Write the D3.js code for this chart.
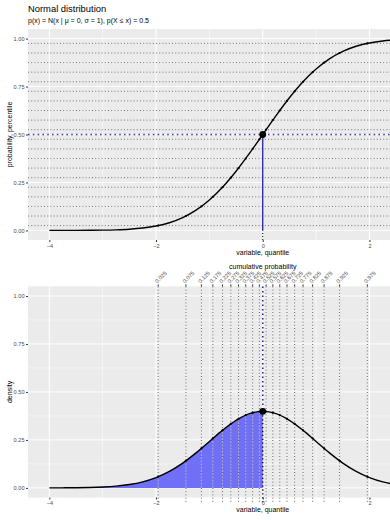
<!DOCTYPE html>
<html>
<head>
<meta charset="utf-8">
<script src="https://cdn.jsdelivr.net/npm/d3@7"></script>
<style>
  body { margin: 0; background: #fff; }
  svg { display: block; font-family: "Liberation Sans", Arial, sans-serif; }
</style>
</head>
<body>
<svg width="390" height="520"></svg>
<script>
// curve samples
const xs = [-4, -3.75, -3.5, -3.25, -3, -2.75, -2.5, -2.25, -2, -1.75, -1.5, -1.25, -1, -0.75, -0.5, -0.25,
  0, 0.25, 0.5, 0.75, 1, 1.25, 1.5, 1.75, 2, 2.25, 2.5, 2.75, 3, 3.25, 3.5, 3.75, 4];
const cdf = [0, 0.0001, 0.0002, 0.0006, 0.0013, 0.003, 0.0062, 0.0122, 0.0228, 0.0401, 0.0668, 0.1056, 0.1587,
  0.2266, 0.3085, 0.4013, 0.5, 0.5987, 0.6915, 0.7734, 0.8413, 0.8944, 0.9332, 0.9599, 0.9772, 0.9878,
  0.9938, 0.997, 0.9987, 0.9994, 0.9998, 0.9999, 1];
const pdf = [0.0001, 0.0004, 0.0009, 0.002, 0.0044, 0.0091, 0.0175, 0.0317, 0.054, 0.0863, 0.1295, 0.1826,
  0.242, 0.3011, 0.3521, 0.3867, 0.3989, 0.3867, 0.3521, 0.3011, 0.242, 0.1826, 0.1295, 0.0863, 0.054,
  0.0317, 0.0175, 0.0091, 0.0044, 0.002, 0.0009, 0.0004, 0.0001];

// quantile marks
const probs = ['0.025', '0.075', '0.125', '0.175', '0.225', '0.275', '0.325', '0.375', '0.425', '0.475',
  '0.525', '0.575', '0.625', '0.675', '0.725', '0.775', '0.825', '0.875', '0.925', '0.975'];
const quants = [-1.96, -1.44, -1.15, -0.935, -0.755, -0.598, -0.454, -0.319, -0.189, -0.063,
  0.063, 0.189, 0.319, 0.454, 0.598, 0.755, 0.935, 1.15, 1.44, 1.96];
const qdens = [0.0584, 0.1415, 0.2059, 0.2579, 0.3, 0.3335, 0.3602, 0.3791, 0.3919, 0.3981,
  0.3981, 0.3919, 0.3791, 0.3602, 0.3335, 0.3, 0.2579, 0.2059, 0.1415, 0.0584];

const xTicks = [-4, -2, 0, 2];   // 4 lies past the right edge of the picture
const xGrid = [-4, -2, 0, 2, 4];
const xMinor = [-3, -1, 1, 3];
const yTicks = [0, 0.25, 0.5, 0.75, 1];
const yMinor = [0.125, 0.375, 0.625, 0.875];
const q0 = 0, p0 = 0.5, d0 = 0.3989;

const svg = d3.select('svg');
const left = 28;
const x = d3.scaleLinear().domain([-4.4, 4.4]).range([left, 497.5]);
const yTop = d3.scaleLinear().domain([-0.05, 1.05]).range([240, 29]);
const yBot = d3.scaleLinear().domain([-0.05, 1.05]).range([497.5, 286.4]);
const W = 390;
const fmt = d3.format('.2f');
const grey30 = '#4d4d4d';

svg.append('text').attr('x', left).attr('y', 12).attr('font-size', 9.4).text('Normal distribution');
svg.append('text').attr('x', left).attr('y', 23).attr('font-size', 7)
  .text('p(x) = N(x | \u03bc = 0, \u03c3 = 1), p(X \u2264 x) = 0.5');

function panel(y, yTitle) {
  const g = svg.append('g');
  const [b, t] = y.range();
  g.append('rect').attr('x', left).attr('y', t).attr('width', W - left).attr('height', b - t).attr('fill', '#ebebeb');
  g.selectAll('.ymin').data(yMinor).enter().append('line')
    .attr('x1', left).attr('x2', W).attr('y1', y).attr('y2', y).attr('stroke', '#fff').attr('stroke-width', 0.5);
  g.selectAll('.xmin').data(xMinor).enter().append('line')
    .attr('y1', t).attr('y2', b).attr('x1', x).attr('x2', x).attr('stroke', '#fff').attr('stroke-width', 0.5);
  g.selectAll('.ymaj').data(yTicks).enter().append('line')
    .attr('x1', left).attr('x2', W).attr('y1', y).attr('y2', y).attr('stroke', '#fff').attr('stroke-width', 1);
  g.selectAll('.xmaj').data(xGrid).enter().append('line')
    .attr('y1', t).attr('y2', b).attr('x1', x).attr('x2', x).attr('stroke', '#fff').attr('stroke-width', 1);

  const ya = svg.append('g').attr('transform', `translate(${left},0)`)
    .call(d3.axisLeft(y).tickValues(yTicks).tickFormat(fmt).tickSize(2).tickPadding(1.5));
  ya.select('.domain').remove();
  ya.selectAll('line').attr('stroke', '#333');
  ya.selectAll('text').attr('fill', grey30).attr('font-size', 5.6).attr('font-family', 'Liberation Sans, Arial, sans-serif');

  const xa = svg.append('g').attr('transform', `translate(0,${b})`)
    .call(d3.axisBottom(x).tickValues(xTicks).tickFormat(d3.format('d')).tickSize(2).tickPadding(2));
  xa.select('.domain').remove();
  xa.selectAll('line').attr('stroke', '#333');
  xa.selectAll('text').attr('fill', grey30).attr('font-size', 5.6).attr('font-family', 'Liberation Sans, Arial, sans-serif');

  svg.append('text').attr('x', x(0)).attr('y', b + 14.5).attr('text-anchor', 'middle').attr('font-size', 7)
    .text('variable, quantile');
  svg.append('text').attr('transform', `translate(11.5,${(b + t) / 2}) rotate(-90)`).attr('text-anchor', 'middle')
    .attr('font-size', 7).text(yTitle);
  return g;
}

// ---- top panel: cumulative ----
const gt = panel(yTop, 'probability, percentile');
gt.selectAll('.ph').data(probs).enter().append('line')
  .attr('x1', left).attr('x2', W).attr('y1', d => yTop(+d)).attr('y2', d => yTop(+d))
  .attr('stroke', '#666').attr('stroke-width', 0.9).attr('stroke-dasharray', '1,2.2');
gt.append('line').attr('x1', left).attr('x2', W).attr('y1', yTop(p0)).attr('y2', yTop(p0))
  .attr('stroke', '#3a3ab0').attr('stroke-width', 1.6).attr('stroke-dasharray', '1.6,3.2');
gt.append('line').attr('x1', x(q0)).attr('x2', x(q0)).attr('y1', yTop.range()[0]).attr('y2', yTop(0))
  .attr('stroke', '#000').attr('stroke-width', 1).attr('stroke-dasharray', '1,2');
gt.append('line').attr('x1', x(q0)).attr('x2', x(q0)).attr('y1', yTop(0)).attr('y2', yTop(p0))
  .attr('stroke', '#2020a0').attr('stroke-width', 1.3);

const lineTop = d3.line().x((d, i) => x(xs[i])).y(d => yTop(d)).curve(d3.curveMonotoneX);
gt.append('path').datum(cdf).attr('d', lineTop).attr('fill', 'none').attr('stroke', '#000').attr('stroke-width', 1.4);
gt.selectAll('.qp').data(probs).enter().append('circle')
  .attr('cx', (d, i) => x(quants[i])).attr('cy', d => yTop(+d)).attr('r', 1.1).attr('fill', '#000');
gt.append('circle').attr('cx', x(q0)).attr('cy', yTop(p0)).attr('r', 3.4).attr('fill', '#000');

// ---- bottom panel: density ----
const gb = panel(yBot, 'density');
const shadeIdx = xs.map((v, i) => i).filter(i => xs[i] <= q0);
const area = d3.area().x(i => x(xs[i])).y0(yBot(0)).y1(i => yBot(pdf[i])).curve(d3.curveMonotoneX);
gb.append('path').datum(shadeIdx).attr('d', area).attr('fill', '#6f6ff8');

const bBottom = yBot.range()[0], bTop = yBot.range()[1];
gb.selectAll('.qvw').data(quants).enter().append('line')
  .attr('x1', x).attr('x2', x).attr('y1', bTop).attr('y2', bBottom)
  .attr('stroke', '#fff').attr('stroke-opacity', 0.45).attr('stroke-width', 0.9);
gb.selectAll('.qv').data(quants).enter().append('line')
  .attr('x1', x).attr('x2', x).attr('y1', bTop).attr('y2', bBottom + 5)
  .attr('stroke', '#555').attr('stroke-width', 0.9).attr('stroke-dasharray', '1,2.2');
gb.append('line').attr('x1', x(q0)).attr('x2', x(q0)).attr('y1', bTop).attr('y2', yBot(d0))
  .attr('stroke', '#22228c').attr('stroke-width', 1.5).attr('stroke-dasharray', '1.5,3');
gb.append('line').attr('x1', x(q0)).attr('x2', x(q0)).attr('y1', yBot(d0)).attr('y2', bBottom + 5)
  .attr('stroke', '#000').attr('stroke-width', 1.3).attr('stroke-dasharray', '1.3,2.6');

const lineBot = d3.line().x((d, i) => x(xs[i])).y(d => yBot(d)).curve(d3.curveMonotoneX);
gb.append('path').datum(pdf).attr('d', lineBot).attr('fill', 'none').attr('stroke', '#000').attr('stroke-width', 1.4);
gb.selectAll('.qd').data(qdens).enter().append('circle')
  .attr('cx', (d, i) => x(quants[i])).attr('cy', d => yBot(d)).attr('r', 1.1).attr('fill', '#000');
gb.append('circle').attr('cx', x(q0)).attr('cy', yBot(d0)).attr('r', 3.4).attr('fill', '#000');

// secondary axis: cumulative probability
const ta = svg.append('g');
ta.selectAll('line').data(quants).enter().append('line')
  .attr('x1', x).attr('x2', x).attr('y1', bTop - 2).attr('y2', bTop).attr('stroke', '#333');
ta.selectAll('text').data(probs).enter().append('text')
  .attr('transform', (d, i) => `translate(${x(quants[i]) - 1},${bTop - 3}) rotate(-45)`)
  .attr('font-size', 5.6).attr('fill', grey30).text(d => d);
svg.append('text').attr('x', x(0)).attr('y', 269).attr('text-anchor', 'middle').attr('font-size', 7)
  .text('cumulative probability');
</script>
</body>
</html>
